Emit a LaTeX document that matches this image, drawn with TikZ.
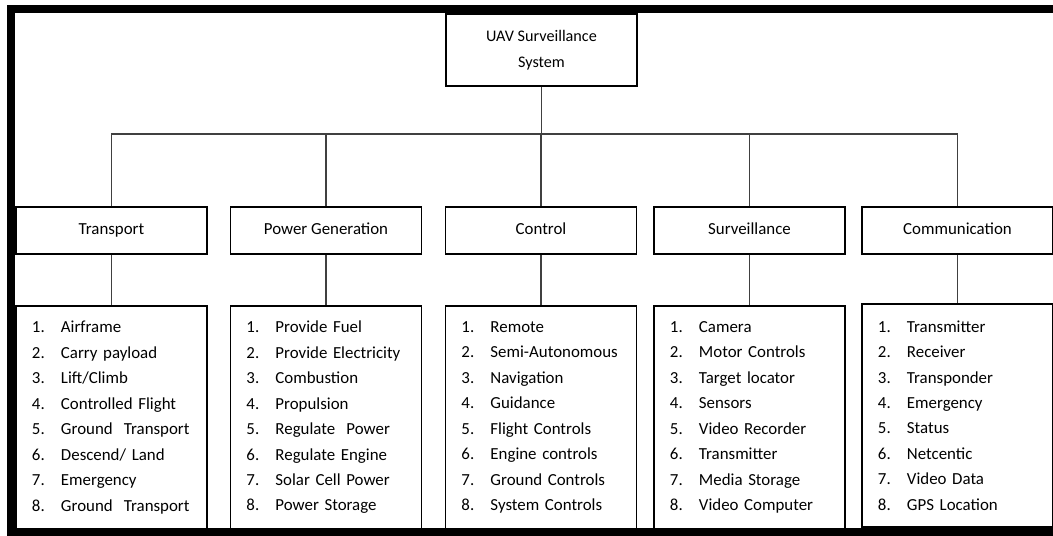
\documentclass[tikz,border=0pt]{standalone}
\usepackage{fontspec}
\setmainfont{Carlito}

\begin{document}
\begin{tikzpicture}[x=0.025cm, y=-0.025cm,
  box/.style={draw, line width=1pt, minimum width=4.775cm, minimum height=1.175cm, inner sep=0pt, text height=8.5pt, text depth=2.5pt, font=\fontsize{12}{14}\selectfont},
  listBox/.style={draw, line width=1pt, minimum width=4.775cm, minimum height=5.575cm, text width=3.975cm, inner xsep=0.4cm, inner ysep=0pt, align=left, font=\fontsize{12}{18.1}\selectfont},
  link/.style={draw=black!75, line width=0.8pt}]
  \useasboundingbox (0,0) rectangle (1053,536);

  % frame
  \fill (7,5) rectangle (1053,13);
  \fill (7,5) rectangle (15,536);
  \fill (7,528) rectangle (1053,536);

  \node[draw, line width=1pt, minimum width=4.775cm, minimum height=1.8cm, align=center, font=\fontsize{11.5}{18.4}\selectfont] (root) at (541.5,50) {UAV Surveillance\\System};

  \node[box] (transport) at (111.5,230.5) {Transport};
  \node[box] (powerGen) at (326,230.5) {Power Generation};
  \node[box] (control) at (541,230.5) {Control};
  \node[box] (surveillance) at (749.5,230.5) {Surveillance};
  \node[box] (communication) at (957.5,230.5) {Communication};

  \node[listBox] (transportList) at (111.5,417.5) {
    \makebox[0.725cm][l]{1.}Airframe\\
    \makebox[0.725cm][l]{2.}Carry payload\\
    \makebox[0.725cm][l]{3.}Lift/Climb\\
    \makebox[0.725cm][l]{4.}Controlled Flight\\
    \makebox[0.725cm][l]{5.}Ground~ Transport\\
    \makebox[0.725cm][l]{6.}Descend/ Land\\
    \makebox[0.725cm][l]{7.}Emergency\\
    \makebox[0.725cm][l]{8.}Ground~ Transport};

  \node[listBox] (powerGenList) at (326,417.5) {
    \makebox[0.725cm][l]{1.}Provide Fuel\\
    \makebox[0.725cm][l]{2.}Provide Electricity\\
    \makebox[0.725cm][l]{3.}Combustion\\
    \makebox[0.725cm][l]{4.}Propulsion\\
    \makebox[0.725cm][l]{5.}Regulate~ Power\\
    \makebox[0.725cm][l]{6.}Regulate Engine\\
    \makebox[0.725cm][l]{7.}Solar Cell Power\\
    \makebox[0.725cm][l]{8.}Power Storage};

  \node[listBox] (controlList) at (541,417.5) {
    \makebox[0.725cm][l]{1.}Remote\\
    \makebox[0.725cm][l]{2.}Semi-Autonomous\\
    \makebox[0.725cm][l]{3.}Navigation\\
    \makebox[0.725cm][l]{4.}Guidance\\
    \makebox[0.725cm][l]{5.}Flight Controls\\
    \makebox[0.725cm][l]{6.}Engine controls\\
    \makebox[0.725cm][l]{7.}Ground Controls\\
    \makebox[0.725cm][l]{8.}System Controls};

  \node[listBox] (surveillanceList) at (749.5,417.5) {
    \makebox[0.725cm][l]{1.}Camera\\
    \makebox[0.725cm][l]{2.}Motor Controls\\
    \makebox[0.725cm][l]{3.}Target locator\\
    \makebox[0.725cm][l]{4.}Sensors\\
    \makebox[0.725cm][l]{5.}Video Recorder\\
    \makebox[0.725cm][l]{6.}Transmitter\\
    \makebox[0.725cm][l]{7.}Media Storage\\
    \makebox[0.725cm][l]{8.}Video Computer};

  \node[listBox] (communicationList) at (957.5,415.5) {
    \makebox[0.725cm][l]{1.}Transmitter\\
    \makebox[0.725cm][l]{2.}Receiver\\
    \makebox[0.725cm][l]{3.}Transponder\\
    \makebox[0.725cm][l]{4.}Emergency\\
    \makebox[0.725cm][l]{5.}Status\\
    \makebox[0.725cm][l]{6.}Netcentic\\
    \makebox[0.725cm][l]{7.}Video Data\\
    \makebox[0.725cm][l]{8.}GPS Location};

  \coordinate (bus) at (541.5,134);
  \draw[link] (root.south) -- (bus);
  \draw[link] (transport.north) |- (bus) -| (communication.north);
  \draw[link] (powerGen.north) -- (powerGen.north |- bus);
  \draw[link] (control.north) -- (control.north |- bus);
  \draw[link] (surveillance.north) -- (surveillance.north |- bus);

  \draw[link] (transport) -- (transportList);
  \draw[link] (powerGen) -- (powerGenList);
  \draw[link] (control) -- (controlList);
  \draw[link] (surveillance) -- (surveillanceList);
  \draw[link] (communication) -- (communicationList);
\end{tikzpicture}
\end{document}
